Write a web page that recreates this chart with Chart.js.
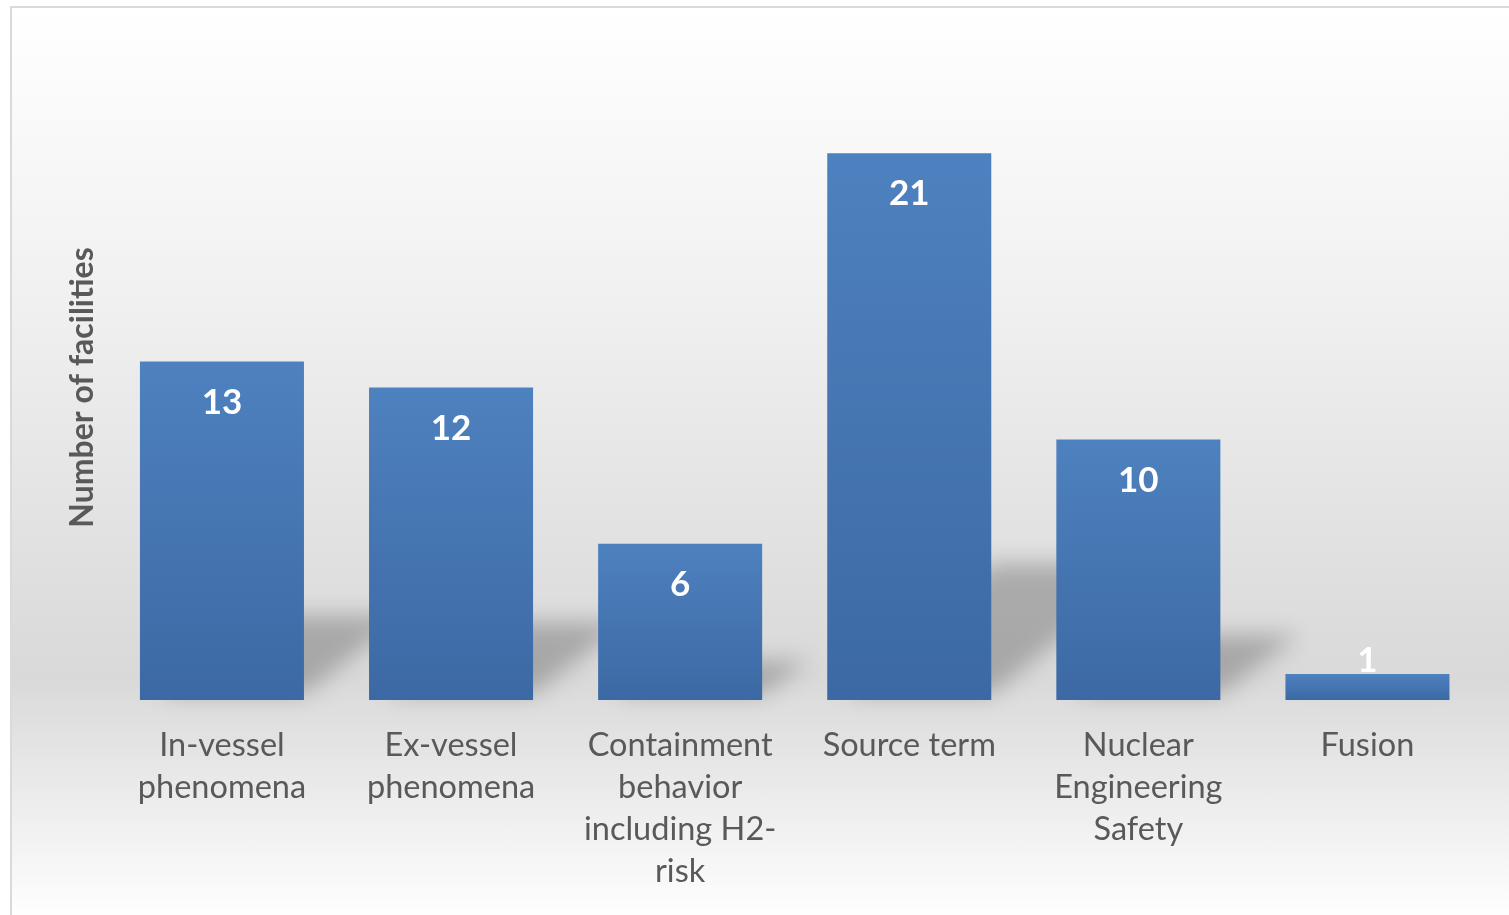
<!DOCTYPE html>
<html>
<head>
<meta charset="utf-8">
<title>Number of facilities</title>
<script src="https://cdn.jsdelivr.net/npm/chart.js@4/dist/chart.umd.min.js"></script>
<style>
    html, body { margin: 0; padding: 0; background: #fff; overflow: hidden; }
    #frame {
        position: absolute; left: 10px; top: 6px; width: 1520px; height: 930px;
        border: 2px solid #dadada;
        background: linear-gradient(to bottom, #ffffff 0%, #f1f1f1 30%, #d9d9d9 72%, #ffffff 98%);
    }
    #wrap { position: absolute; left: 0; top: 0; width: 1509px; height: 915px; }
</style>
</head>
<body>
<div id="frame"></div>
<div id="wrap"><canvas id="facilitiesChart"></canvas></div>
<script>
// data
const categories = [
    ['In-vessel', 'phenomena'],
    ['Ex-vessel', 'phenomena'],
    ['Containment', 'behavior', 'including H2-', 'risk'],
    ['Source term'],
    ['Nuclear', 'Engineering', 'Safety'],
    ['Fusion']
];
const facilities = [13, 12, 6, 21, 10, 1];
const axisTitle = 'Number of facilities';

const FONT = "Lato, 'Open Sans', sans-serif";

// soft skewed shadow lying behind each bar's foot
const barShadow = {
    id: 'barShadow',
    beforeDatasetsDraw(chart) {
        const ctx = chart.ctx;
        ctx.save();
        ctx.filter = 'blur(11px)';
        ctx.fillStyle = 'rgba(0,0,0,0.23)';
        chart.getDatasetMeta(0).data.forEach(bar => {
            const left = bar.x - bar.width / 2;
            const right = bar.x + bar.width / 2;
            const h = (bar.base - bar.y) * 0.25;
            const dx = h * 1.2;
            ctx.beginPath();
            ctx.moveTo(left + 20, bar.base - 6);
            ctx.lineTo(right, bar.base - 6);
            ctx.lineTo(right + dx, bar.base - h);
            ctx.lineTo(left + dx, bar.base - h);
            ctx.closePath();
            ctx.fill();
        });
        ctx.restore();
    }
};

// white value labels near the top of each bar
const valueLabels = {
    id: 'valueLabels',
    afterDatasetsDraw(chart) {
        const ctx = chart.ctx;
        const ds = chart.data.datasets[0];
        ctx.save();
        ctx.font = `bold 35px ${FONT}`;
        ctx.fillStyle = '#ffffff';
        ctx.textAlign = 'center';
        ctx.textBaseline = 'middle';
        chart.getDatasetMeta(0).data.forEach((bar, i) => {
            const y = Math.min(bar.y + 41, bar.base - 39);
            ctx.fillText(String(ds.data[i]), bar.x, y);
        });
        ctx.restore();
    }
};

function barGradient(c) {
    const y = c.chart.scales.y;
    if (c.type !== 'data' || !y) return '#4775b0';
    const top = y.getPixelForValue(c.raw);
    const base = y.getPixelForValue(0);
    if (!isFinite(top) || !isFinite(base) || top === base) return '#4775b0';
    const g = c.chart.ctx.createLinearGradient(0, top, 0, base);
    g.addColorStop(0, '#4e81bf');
    g.addColorStop(1, '#3c69a4');
    return g;
}

new Chart(document.getElementById('facilitiesChart'), {
    type: 'bar',
    data: {
        labels: categories,
        datasets: [{
            label: axisTitle,
            data: facilities,
            backgroundColor: barGradient,
            borderWidth: 0,
            categoryPercentage: 1,
            barPercentage: 0.716
        }]
    },
    options: {
        responsive: true,
        maintainAspectRatio: false,
        animation: false,
        layout: { padding: { left: 59, right: 27, top: 75, bottom: -3 } },
        plugins: {
            legend: { display: false },
            tooltip: { enabled: false }
        },
        scales: {
            x: {
                grid: { display: false, drawTicks: false },
                border: { display: false },
                ticks: {
                    color: '#595959',
                    font: { family: FONT, size: 32.5, lineHeight: '42px' },
                    padding: 25,
                    maxRotation: 0,
                    autoSkip: false
                }
            },
            y: {
                min: 0,
                max: 24,
                grid: { display: false, drawTicks: false },
                border: { display: false },
                ticks: { display: false },
                title: {
                    display: true,
                    text: axisTitle,
                    color: '#595959',
                    padding: { top: 4, bottom: 6 },
                    font: { family: FONT, size: 32, weight: 'bold' }
                }
            }
        }
    },
    plugins: [barShadow, valueLabels]
});
</script>
</body>
</html>
